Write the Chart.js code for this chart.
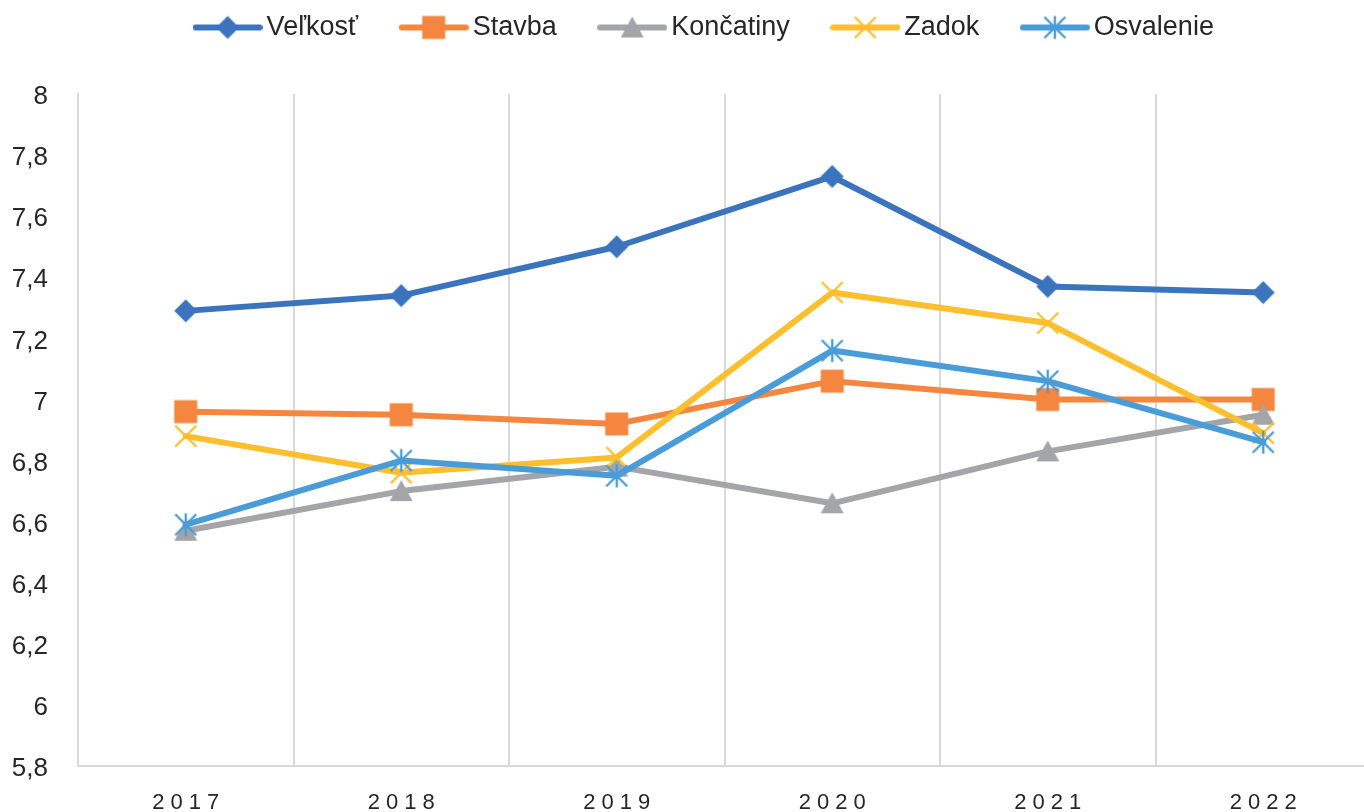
<!DOCTYPE html>
<html><head><meta charset="utf-8">
<script src="https://cdn.jsdelivr.net/npm/chart.js@4.4.1/dist/chart.umd.min.js"></script>
<style>
html,body{margin:0;padding:0;overflow:hidden;background:#fff;width:1364px;height:812px}
#wrap{position:absolute;left:0;top:0;width:1400px;height:812px}
</style></head>
<body><div id="wrap"><canvas id="c"></canvas></div>
<script>
const categories = ['2017', '2018', '2019', '2020', '2021', '2022'];
const seriesNames = ['Veľkosť', 'Stavba', 'Končatiny', 'Zadok', 'Osvalenie'];
const velkost   = [7.29, 7.34, 7.50, 7.73, 7.37, 7.35];
const stavba    = [6.96, 6.95, 6.92, 7.06, 7.00, 7.00];
const koncatiny = [6.57, 6.70, 6.78, 6.66, 6.83, 6.95];
const zadok     = [6.88, 6.76, 6.81, 7.35, 7.25, 6.89];
const osvalenie = [6.59, 6.80, 6.75, 7.16, 7.06, 6.86];
const yTickValues = [5.8, 6, 6.2, 6.4, 6.6, 6.8, 7, 7.2, 7.4, 7.6, 7.8, 8];
const yTickLabels = ['5,8', '6', '6,2', '6,4', '6,6', '6,8', '7', '7,2', '7,4', '7,6', '7,8', '8'];

const seriesData = [velkost, stavba, koncatiny, zadok, osvalenie];
const colors = ['#3B74BD', '#F4863F', '#A3A5A8', '#FDBF2D', '#4A9CD9'];
const markers = ['diamond', 'square', 'triangle', 'x', 'asterisk'];
const FONT = "'Liberation Sans', Arial, sans-serif";
const TEXT = '#262626';

function drawMarker(g, type, cx, cy, color) {
  g.fillStyle = color; g.strokeStyle = color;
  if (type === 'diamond') {
    g.beginPath(); g.moveTo(cx, cy - 11.5); g.lineTo(cx + 11.5, cy); g.lineTo(cx, cy + 11.5); g.lineTo(cx - 11.5, cy); g.closePath(); g.fill();
  } else if (type === 'square') {
    g.fillRect(cx - 11.5, cy - 11.5, 23, 23);
  } else if (type === 'triangle') {
    g.beginPath(); g.moveTo(cx, cy - 11); g.lineTo(cx + 11.5, cy + 10); g.lineTo(cx - 11.5, cy + 10); g.closePath(); g.fill();
  } else {
    g.lineWidth = 2.4; g.lineCap = 'butt';
    g.beginPath();
    g.moveTo(cx - 10.5, cy - 10.5); g.lineTo(cx + 10.5, cy + 10.5);
    g.moveTo(cx + 10.5, cy - 10.5); g.lineTo(cx - 10.5, cy + 10.5);
    if (type === 'asterisk') { g.moveTo(cx, cy - 11.5); g.lineTo(cx, cy + 11.5); }
    g.stroke();
  }
}
function markerImg(type, color) {
  const c = document.createElement('canvas'); c.width = 28; c.height = 28;
  drawMarker(c.getContext('2d'), type, 14, 14, color); return c;
}
function legendImg(type, color) {
  const c = document.createElement('canvas'); c.width = 70; c.height = 28;
  const g = c.getContext('2d');
  g.strokeStyle = color; g.lineWidth = 6; g.lineCap = 'round';
  g.beginPath(); g.moveTo(3, 14); g.lineTo(67, 14); g.stroke();
  drawMarker(g, type, 35, 14, color); return c;
}
const pointImgs = markers.map((m, i) => markerImg(m, colors[i]));
const legendImgs = markers.map((m, i) => legendImg(m, colors[i]));

const datasets = seriesNames.map((name, i) => ({
  label: name,
  data: seriesData[i],
  borderColor: colors[i],
  backgroundColor: colors[i],
  borderWidth: 6,
  borderJoinStyle: 'round',
  borderCapStyle: 'round',
  tension: 0,
  pointStyle: pointImgs[i],
  pointRadius: 12,
  pointHoverRadius: 12,
  order: seriesNames.length - i
}));

const legendSpace = {
  id: 'legendSpace',
  beforeInit(chart) {
    const lg = chart.legend;
    const orig = lg.fit;
    lg.fit = function () { orig.call(lg); lg.height = 130; };
  },
  afterLayout(chart) {
    chart.legend.left += 22.5;
    chart.legend.right += 22.5;
  }
};
const labelTweaks = {
  id: 'labelTweaks',
  afterUpdate(chart) {
    const s = chart.scales.x;
    if (s && !s._lsWrapped) {
      const orig = s.drawLabels;
      s.drawLabels = function (area) {
        const c = this.ctx; c.save(); c.letterSpacing = '6px'; c.translate(3, 0);
        orig.call(this, area); c.restore();
      };
      s._lsWrapped = true;
    }
    const y = chart.scales.y;
    if (y && !y._lsWrapped) {
      const origY = y.drawLabels;
      y.drawLabels = function (area) {
        const c = this.ctx; c.save(); c.translate(0, 3);
        origY.call(this, area); c.restore();
      };
      y._lsWrapped = true;
    }
  }
};

new Chart(document.getElementById('c'), {
  type: 'line',
  data: { labels: categories, datasets },
  plugins: [legendSpace, labelTweaks],
  options: {
    responsive: true, maintainAspectRatio: false, animation: false, devicePixelRatio: 1,
    layout: { padding: { left: 0, right: 29, top: -36, bottom: 0 } },
    plugins: {
      tooltip: { enabled: false },
      legend: {
        position: 'top',
        labels: {
          usePointStyle: true, pointStyleWidth: 51, padding: 50,
          font: { family: FONT, size: 27 }, color: TEXT,
          generateLabels: (chart) => chart.data.datasets.map((ds, i) => ({
            text: ds.label, datasetIndex: i, pointStyle: legendImgs[i],
            fillStyle: colors[i], strokeStyle: colors[i], lineWidth: 0,
            hidden: false, fontColor: TEXT
          }))
        }
      }
    },
    scales: {
      x: {
        type: 'category', offset: true,
        grid: { offset: true, color: '#D9D9D9', lineWidth: 2, drawTicks: false },
        border: { display: true, color: '#D9D9D9', width: 2 },
        ticks: { padding: 24, font: { family: FONT, size: 22 }, color: TEXT, maxRotation: 0 },
        afterFit: (s) => { s.height = 46; }
      },
      y: {
        min: 5.8, max: 8,
        grid: { display: false, drawTicks: false },
        border: { display: true, color: '#D9D9D9', width: 2 },
        afterBuildTicks: (s) => { s.ticks = yTickValues.map(v => ({ value: v })); },
        ticks: {
          padding: 30, font: { family: FONT, size: 26 }, color: TEXT,
          callback: (v) => { const k = yTickValues.findIndex(t => Math.abs(t - v) < 1e-6); return k >= 0 ? yTickLabels[k] : ''; }
        },
        afterFit: (s) => { s.width = 78; }
      }
    }
  }
});
</script></body></html>
